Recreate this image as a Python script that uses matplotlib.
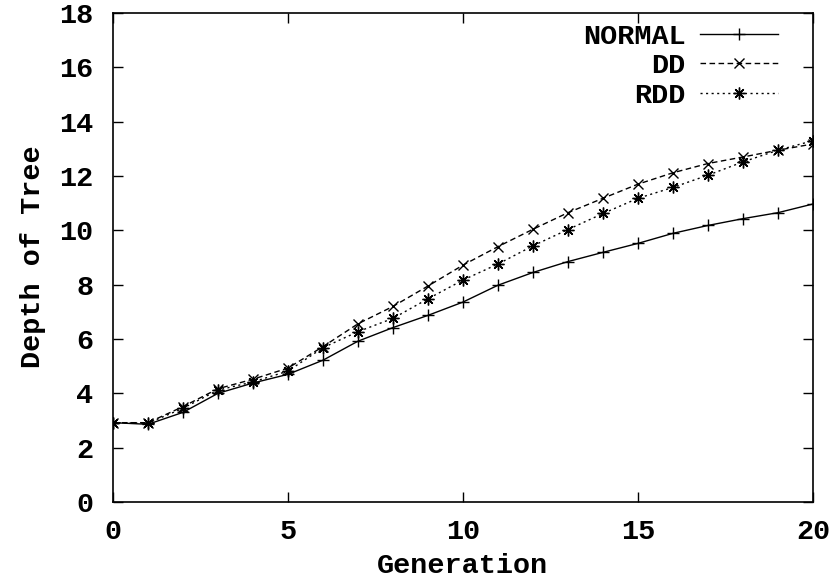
import matplotlib
matplotlib.use("Agg")
import matplotlib.pyplot as plt

generation = list(range(21))
normal = [2.92, 2.86, 3.30, 4.00, 4.38, 4.70, 5.22, 5.92, 6.42, 6.87, 7.36, 7.98, 8.45, 8.85, 9.19, 9.52, 9.89, 10.18, 10.43, 10.65, 10.97]
dd = [2.92, 2.92, 3.51, 4.17, 4.52, 4.93, 5.72, 6.56, 7.20, 7.95, 8.72, 9.40, 10.04, 10.65, 11.18, 11.70, 12.12, 12.46, 12.70, 12.95, 13.18]
rdd = [2.92, 2.90, 3.45, 4.12, 4.42, 4.82, 5.68, 6.27, 6.76, 7.48, 8.17, 8.76, 9.43, 10.03, 10.62, 11.18, 11.58, 12.03, 12.52, 12.95, 13.30]

xticks = [0, 5, 10, 15, 20]
yticks = [0, 2, 4, 6, 8, 10, 12, 14, 16, 18]

plt.rcParams['font.family'] = ['Liberation Mono', 'DejaVu Sans Mono']
plt.rcParams['font.weight'] = 'bold'

FS = 20.5

fig = plt.figure(figsize=(8.31, 5.79), dpi=100)
ax = fig.add_axes([113/831, 77/579, 700/831, 489/579])

ms = 8.5
ax.plot(generation, normal, color='black', lw=1.0, ls='-', marker='+', ms=ms, mew=1.0, label='NORMAL')
ax.plot(generation, dd, color='black', lw=1.0, ls=(0, (4, 2.5)), marker='x', ms=ms*0.9, mew=1.0, label='DD')
ax.plot(generation, rdd, color='black', lw=1.0, ls=(0, (1.5, 2.5)), marker=(8, 2, 0), ms=ms, mew=1.0, label='RDD')

ax.set_xlim(0, 20)
ax.set_ylim(0, 18)
ax.set_xticks(xticks)
ax.set_yticks(yticks)
ax.tick_params(direction='in', length=7, width=1, top=True, right=True, labelsize=FS)
ax.tick_params(axis='x', pad=12)
ax.tick_params(axis='y', pad=14)
for lab in ax.get_xticklabels() + ax.get_yticklabels():
    lab.set_fontweight('bold')
for s in ax.spines.values():
    s.set_linewidth(1.2)

ax.set_xlabel('Generation', fontsize=FS, fontweight='bold', labelpad=6)
ax.set_ylabel('Depth of Tree', fontsize=FS, fontweight='bold')
ax.yaxis.set_label_coords(-0.096, 0.502)

leg = ax.legend(loc='upper right', frameon=False, markerfirst=False, fontsize=FS,
                handlelength=2.75, handletextpad=0.5, labelspacing=0.12,
                borderpad=0, borderaxespad=0, bbox_to_anchor=(0.95, 0.978))
for t in leg.get_texts():
    t.set_fontweight('bold')

fig.savefig('out.png', dpi=100)
